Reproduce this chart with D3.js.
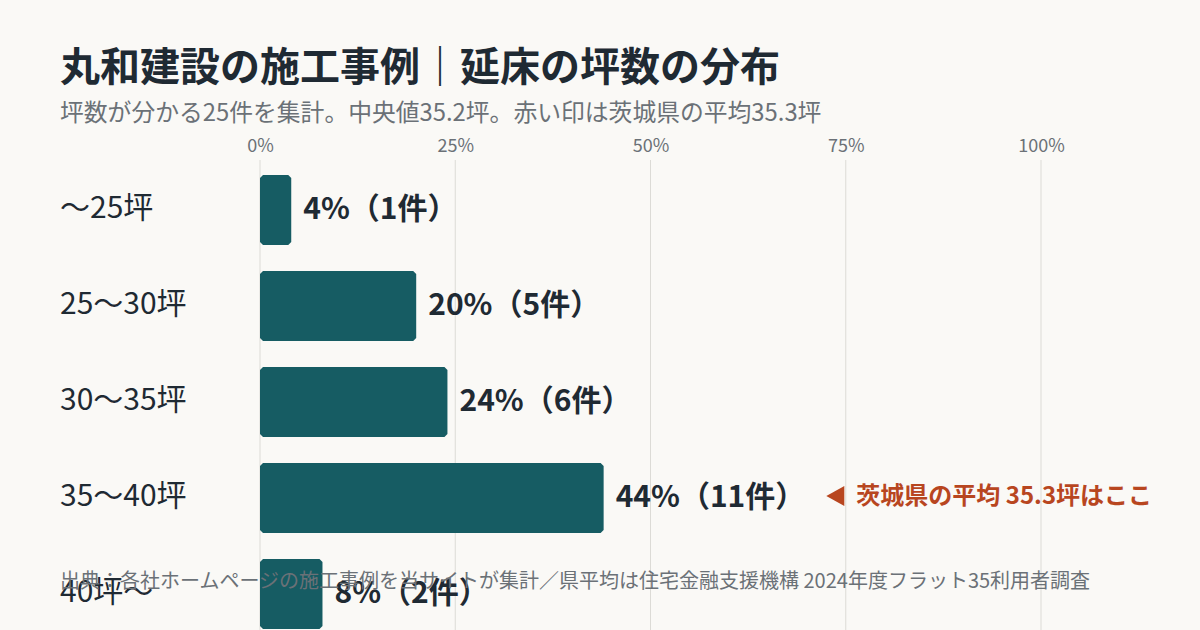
<!DOCTYPE html>
<html>
<head>
<meta charset="utf-8">
<script src="https://cdn.jsdelivr.net/npm/d3@7"></script>
<style>
  html, body { margin: 0; padding: 0; background: #faf9f6; }
  svg { display: block; font-family: 'Noto Sans CJK JP', 'Noto Sans', sans-serif; }
</style>
</head>
<body>
<svg class="chart" width="1200" height="630"></svg>
<script>
// data
const categories = ['～25坪', '25～30坪', '30～35坪', '35～40坪', '40坪～'];
const shares = [0.04, 0.20, 0.24, 0.44, 0.08];
const counts = [1, 5, 6, 11, 2];
const ticks = [0, 0.25, 0.5, 0.75, 1];
const markRow = '35～40坪';   // row where the prefecture average (35.3坪) falls

const titleText = '丸和建設の施工事例｜延床の坪数の分布';
const subText = '坪数が分かる25件を集計。中央値35.2坪。赤い印は茨城県の平均35.3坪';
const markText = '茨城県の平均 35.3坪はここ';
const sourceText = '出典：各社ホームページの施工事例を当サイトが集計／県平均は住宅金融支援機構 2024年度フラット35利用者調査';

const rows = categories.map((c, i) => ({cat: c, share: shares[i], n: counts[i]}));

const svg = d3.select('svg.chart');

const x = d3.scaleLinear()
            .domain([0, 1])
            .range([260, 1041]);

const y = d3.scaleBand()
            .domain(categories)
            .range([162, 642])
            .paddingInner(26/96)
            .paddingOuter(13/96);

svg.append('rect')
  .attr('width', 1200).attr('height', 630)
  .attr('fill', '#faf9f6');

// gridlines
svg.append('g')
  .selectAll('line')
  .data(ticks)
  .enter()
  .append('line')
    .attr('x1', d => x(d)).attr('x2', d => x(d))
    .attr('y1', 160).attr('y2', 630)
    .attr('stroke', '#dcdbd6')
    .attr('stroke-width', 1);

// top axis labels
const axis = svg.append('g')
  .attr('class', 'axisTop')
  .attr('transform', 'translate(0, 156)')
  .call(d3.axisTop(x).tickValues(ticks).tickFormat(d3.format('.0%')).tickSize(0).tickPadding(4));
axis.select('.domain').remove();
axis.selectAll('text')
  .attr('fill', '#6b7177')
  .style('font-size', '18px')
  .style('font-family', "'Noto Sans CJK JP', sans-serif");

// chamfered bar path
function barPath(x0, y0, w, h){
  const c = Math.min(3, w / 2);
  return `M${x0 + c},${y0} H${x0 + w - c} L${x0 + w},${y0 + c} V${y0 + h - c} L${x0 + w - c},${y0 + h}` +
         ` H${x0 + c} L${x0},${y0 + h - c} V${y0 + c} Z`;
}

svg.append('g')
  .selectAll('path')
  .data(rows)
  .enter()
  .append('path')
    .attr('d', d => barPath(x(0), y(d.cat), x(d.share) - x(0), y.bandwidth()))
    .attr('fill', '#165c63');

// category labels
svg.append('g')
  .selectAll('text')
  .data(rows)
  .enter()
  .append('text')
    .attr('x', 60)
    .attr('y', d => y(d.cat) + y.bandwidth() / 2)
    .attr('dy', '0.28em')
    .attr('fill', '#1f2a33')
    .style('font-size', '30px')
    .text(d => d.cat);

// value labels
const vals = svg.append('g')
  .selectAll('text')
  .data(rows)
  .enter()
  .append('text')
    .attr('x', d => x(d.share) + 12)
    .attr('y', d => y(d.cat) + y.bandwidth() / 2)
    .attr('dy', '0.3em')
    .attr('fill', '#1f2a33')
    .style('font-size', '30px')
    .style('font-weight', 700)
    .text(d => `${Math.round(d.share * 100)}%（${d.n}件）`);

// prefecture average marker, placed after the label of its row
const markNode = vals.filter(d => d.cat === markRow).node();
const markRowData = rows.find(d => d.cat === markRow);
const mx = x(markRowData.share) + 12 + markNode.getComputedTextLength() + 21;
const my = y(markRow) + y.bandwidth() / 2 - 2;

const mark = svg.append('g').attr('transform', `translate(${mx}, ${my})`);
mark.append('path')
  .attr('d', 'M0,0 L18,-10 L18,10 Z')
  .attr('fill', '#b8461f');
mark.append('text')
  .attr('x', 30)
  .attr('dy', '0.34em')
  .attr('fill', '#b8461f')
  .style('font-size', '24px')
  .style('font-weight', 700)
  .text(markText);

// titles
svg.append('text')
  .attr('x', 60).attr('y', 81)
  .attr('fill', '#1f2a33')
  .style('font-size', '40px')
  .style('font-weight', 700)
  .text(titleText);

svg.append('text')
  .attr('x', 60).attr('y', 121)
  .attr('fill', '#6b7177')
  .style('font-size', '23.8px')
  .text(subText);

// source note
svg.append('text')
  .attr('x', 60).attr('y', 588)
  .attr('fill', '#6b7177')
  .style('font-size', '20px')
  .text(sourceText);
</script>
</body>
</html>
